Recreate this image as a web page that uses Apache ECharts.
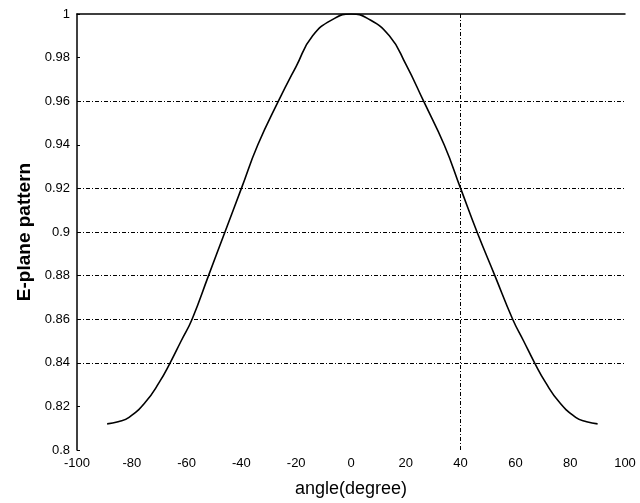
<!DOCTYPE html>
<html>
<head>
<meta charset="utf-8">
<script src="https://cdn.jsdelivr.net/npm/echarts@6/dist/echarts.min.js"></script>
<style>
  html, body { margin: 0; padding: 0; background: #fff; }
  #chart { width: 640px; height: 503px; }
</style>
</head>
<body>
<div id="chart"></div>
<script>
// values
const angles = [-89, -85, -81, -75, -70, -66, -62, -58, -52, -46, -40, -34, -26.5, -20, -14, -6, 0,
                6, 14, 20, 26.5, 34, 40, 46, 52.5, 59, 63, 67, 71, 76, 82, 86, 90];
const pattern = [0.812, 0.813, 0.815, 0.822, 0.831, 0.840, 0.850, 0.860, 0.880, 0.900, 0.920, 0.940, 0.960, 0.976, 0.990, 0.998, 1.000,
                 0.998, 0.990, 0.977, 0.960, 0.940, 0.920, 0.900, 0.880, 0.860, 0.850, 0.840, 0.831, 0.822, 0.815, 0.813, 0.812];

const hGridLines = [0.96, 0.92, 0.9, 0.88, 0.86, 0.84];
const vGridLines = [40];

const font = 'Liberation Sans, Arial, sans-serif';
const labelFont = { color: '#000', fontSize: 13, fontFamily: font };
const dotted = { color: '#000', width: 1, type: [4, 2, 1, 2] };

const chart = echarts.init(document.getElementById('chart'), null, { renderer: 'canvas' });

chart.setOption({
    animation: false,
    backgroundColor: '#fff',
    grid: { left: 77, right: 15, top: 14, bottom: 51, containLabel: false },
    xAxis: [
        {
            type: 'value',
            min: -100, max: 100, interval: 20,
            name: 'angle(degree)',
            nameLocation: 'middle',
            nameGap: 30,
            nameTextStyle: { color: '#000', fontSize: 18, fontFamily: font },
            axisLine: { show: false, onZero: false },
            axisTick: { show: false },
            splitLine: { show: false },
            axisLabel: { ...labelFont, margin: 7 }
        },
        {
            type: 'value',
            position: 'top',
            min: -100, max: 100,
            axisLine: { show: true, onZero: false, lineStyle: { color: '#000', width: 1.5 } },
            axisTick: { show: false },
            axisLabel: { show: false },
            splitLine: { show: false }
        }
    ],
    yAxis: {
        type: 'value',
        min: 0.8, max: 1, interval: 0.02,
        name: 'E-plane pattern',
        nameLocation: 'middle',
        nameGap: 38,
        nameTextStyle: { color: '#000', fontSize: 19, fontWeight: 'bold', fontFamily: font },
        axisLine: { show: true, onZero: false, lineStyle: { color: '#000', width: 1.5 } },
        axisTick: { show: true, inside: true, length: 3, lineStyle: { color: '#000' } },
        splitLine: { show: false },
        axisLabel: { ...labelFont, margin: 7 }
    },
    series: [{
        type: 'line',
        data: angles.map((a, i) => [a, pattern[i]]),
        smooth: true,
        symbol: 'none',
        lineStyle: { color: '#000', width: 1.6 },
        markLine: {
            silent: true,
            symbol: 'none',
            label: { show: false },
            lineStyle: dotted,
            data: hGridLines.map(v => ({ yAxis: v })).concat(vGridLines.map(v => ({ xAxis: v })))
        }
    }]
});
</script>
</body>
</html>
